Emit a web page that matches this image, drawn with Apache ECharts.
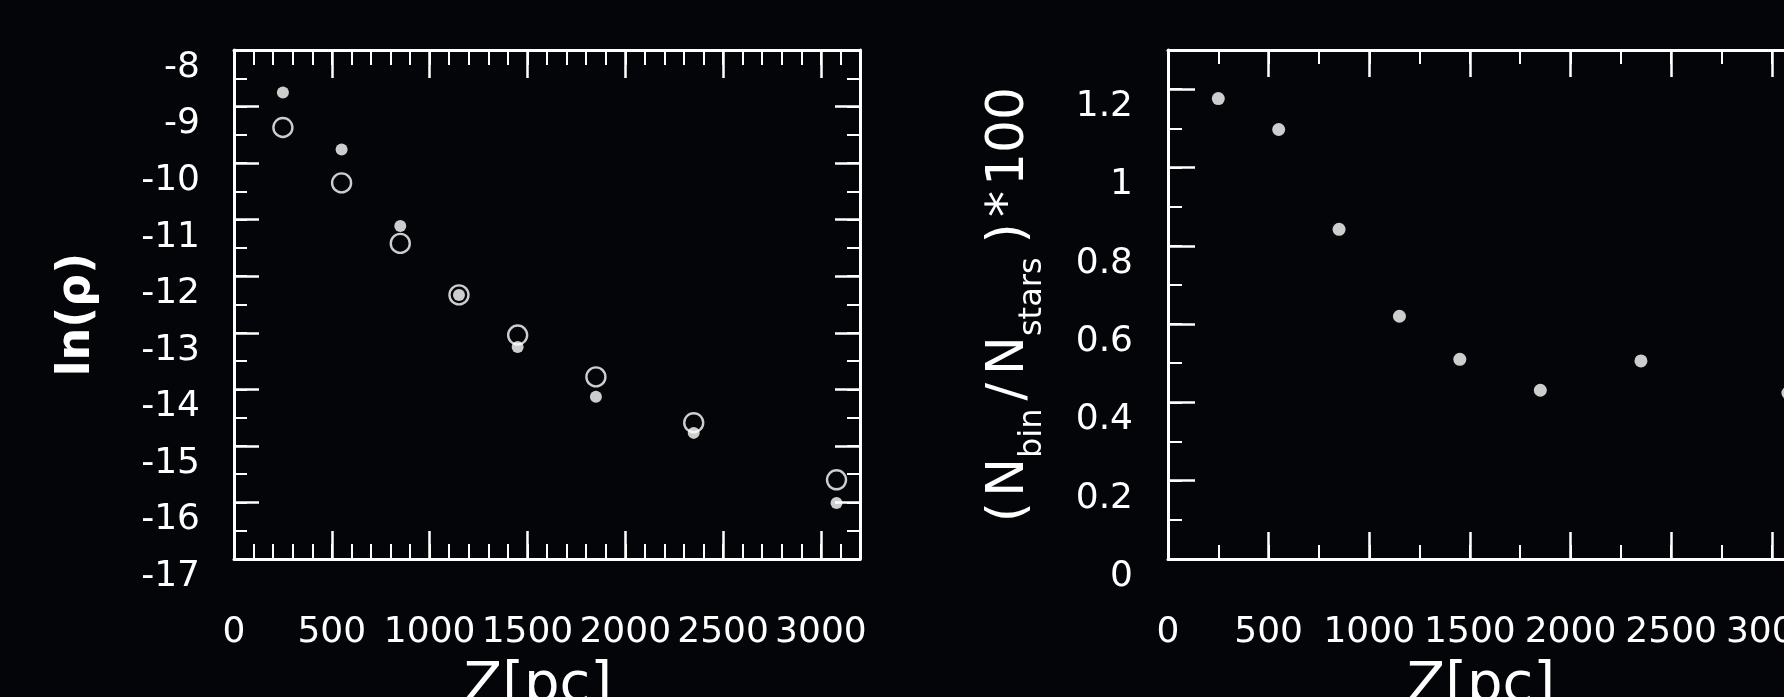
<!DOCTYPE html>
<html>
<head>
<meta charset="utf-8">
<script src="https://cdn.jsdelivr.net/npm/echarts@6/dist/echarts.min.js"></script>
<style>
  html, body { margin: 0; padding: 0; background: #040509; }
  #chart { width: 1784px; height: 697px; }
</style>
</head>
<body>
<div id="chart"></div>
<script>
// Bin centres in height above the plane, Z [pc]
const zBins = [250, 550, 850, 1150, 1450, 1850, 2350, 3080];

// ln(rho) per bin: filled dots and open circles
const lnRhoFilled = [-8.75, -9.76, -11.11, -12.33, -13.25, -14.13, -14.77, -16.01];
const lnRhoOpen   = [-9.37, -10.35, -11.42, -12.33, -13.04, -13.78, -14.59, -15.60];

// (N_bin / N_stars) * 100 per bin
const binFraction = [1.176, 1.097, 0.842, 0.620, 0.510, 0.431, 0.506, 0.424];

// Tick labels
const zTickLabels     = ['0', '500', '1000', '1500', '2000', '2500', '3000'];
const lnRhoTickLabels = ['-17', '-16', '-15', '-14', '-13', '-12', '-11', '-10', '-9', '-8'];
const fracTickLabels  = ['0', '0.2', '0.4', '0.6', '0.8', '1', '1.2'];

const WHITE = '#ffffff';
const FONT = 'DejaVu Sans';

function lookup(labels, v, start, step) {
  const k = Math.round((v - start) / step);
  if (Math.abs(v - (start + k * step)) > 1e-6) return '';
  return labels[k] !== undefined ? labels[k] : '';
}

// One side of a framed panel: a major axis (long ticks, line, optional labels)
// plus a minor axis (short ticks only) laid on top of it.
function frameSide(gridIndex, position, min, max, major, minor, majorLen, minorLen, extra) {
  const base = {
    type: 'value', gridIndex: gridIndex, position: position, min: min, max: max,
    splitLine: { show: false }, axisPointer: { show: false }
  };
  const majorAxis = Object.assign({}, base, {
    interval: major,
    axisLine: { show: true, onZero: false, lineStyle: { color: WHITE, width: 3 } },
    axisTick: { show: true, inside: true, length: majorLen, lineStyle: { color: WHITE, width: 2.5 } },
    axisLabel: { show: false }
  }, extra || {});
  const minorAxis = Object.assign({}, base, {
    interval: minor,
    axisLine: { show: false, onZero: false },
    axisTick: { show: true, inside: true, length: minorLen, lineStyle: { color: WHITE, width: 2 } },
    axisLabel: { show: false }
  });
  return [majorAxis, minorAxis];
}

const tickFont = { color: WHITE, fontFamily: FONT, fontSize: 36 };

const zLabel = Object.assign({}, tickFont, {
  show: true, margin: 56, showMinLabel: true, showMaxLabel: false,
  formatter: v => lookup(zTickLabels, v, 0, 500)
});

// y tick labels sit a little below their ticks
const yLabelBase = Object.assign({}, tickFont, {
  show: true, verticalAlign: 'top', lineHeight: 35, showMinLabel: true
});

const zName = {
  name: 'Z[pc]', nameLocation: 'middle', nameGap: 99,
  nameTextStyle: { color: WHITE, fontFamily: FONT, fontSize: 56, padding: [0, 18, 0, 0] }
};

const main = { color: WHITE, fontFamily: FONT, fontSize: 52, lineHeight: 52, verticalAlign: 'top' };
const sub  = { color: WHITE, fontFamily: FONT, fontSize: 32, lineHeight: 32, verticalAlign: 'top' };

const xAxes = [].concat(
  frameSide(0, 'bottom', 0, 3200, 500, 100, 28, 15, Object.assign({ axisLabel: zLabel }, zName)),
  frameSide(0, 'top', 0, 3200, 500, 100, 28, 15),
  frameSide(1, 'bottom', 0, 3200, 500, 250, 27, 14, Object.assign({ axisLabel: zLabel }, zName)),
  frameSide(1, 'top', 0, 3200, 500, 250, 27, 14)
);

const yAxes = [].concat(
  frameSide(0, 'left', -17, -8, 1, 0.5, 25, 13, {
    axisLabel: Object.assign({}, yLabelBase, {
      margin: 34, showMaxLabel: true,
      formatter: v => lookup(lnRhoTickLabels, v, -17, 1)
    }),
    name: 'ln(ρ)', nameLocation: 'middle', nameGap: 134,
    nameTextStyle: { color: WHITE, fontFamily: FONT, fontWeight: 'bold', fontSize: 46, padding: [0, 20, 0, 0] }
  }),
  frameSide(0, 'right', -17, -8, 1, 0.5, 25, 13),
  frameSide(1, 'left', 0, 1.3, 0.2, 0.1, 27, 14, {
    axisLabel: Object.assign({}, yLabelBase, {
      margin: 35, showMaxLabel: false,
      formatter: v => lookup(fracTickLabels, v, 0, 0.2)
    }),
    name: '{po|(}{m|N}{s|bin}{sl|/}{m|N}{ss|stars}{pc|)}{st|*}{m|100}',
    nameLocation: 'middle', nameGap: 133,
    nameTextStyle: {
      color: WHITE, fontFamily: FONT, fontSize: 52,
      rich: {
        po: Object.assign({}, main, { padding: [0, 5, 0, 0] }),
        m:  main,
        s:  Object.assign({}, sub, { padding: [34, 0, 0, 0] }),
        sl: Object.assign({}, main, { padding: [0, 8, 0, 8] }),
        ss: Object.assign({}, sub, { padding: [34, 14, 0, 0] }),
        pc: Object.assign({}, main, { padding: [0, 6, 0, 0] }),
        st: Object.assign({}, main, { padding: [0, 5, 0, 0] })
      }
    }
  }),
  frameSide(1, 'right', 0, 1.3, 0.2, 0.1, 27, 14)
);

const pairs = (ys) => zBins.map((z, i) => [z, ys[i]]);

const option = {
  backgroundColor: '#040509',
  animation: false,
  grid: [
    { left: 234, right: 924, top: 50, bottom: 138, outerBoundsMode: 'none', containLabel: false },
    { left: 1168, right: -28, top: 50, bottom: 138, outerBoundsMode: 'none', containLabel: false }
  ],
  xAxis: xAxes,
  yAxis: yAxes,
  series: [
    {
      type: 'scatter', xAxisIndex: 0, yAxisIndex: 0,
      symbol: 'circle', symbolSize: 19,
      itemStyle: { color: 'rgba(0,0,0,0)', borderColor: WHITE, borderWidth: 2.4 },
      data: pairs(lnRhoOpen), z: 2
    },
    {
      type: 'scatter', xAxisIndex: 0, yAxisIndex: 0,
      symbol: 'circle', symbolSize: 12,
      itemStyle: { color: WHITE },
      data: pairs(lnRhoFilled), z: 3
    },
    {
      type: 'scatter', xAxisIndex: 4, yAxisIndex: 4,
      symbol: 'circle', symbolSize: 13,
      itemStyle: { color: WHITE },
      data: pairs(binFraction), z: 3
    }
  ]
};

const chart = echarts.init(document.getElementById('chart'), null, { renderer: 'canvas' });
chart.setOption(option);
</script>
</body>
</html>
